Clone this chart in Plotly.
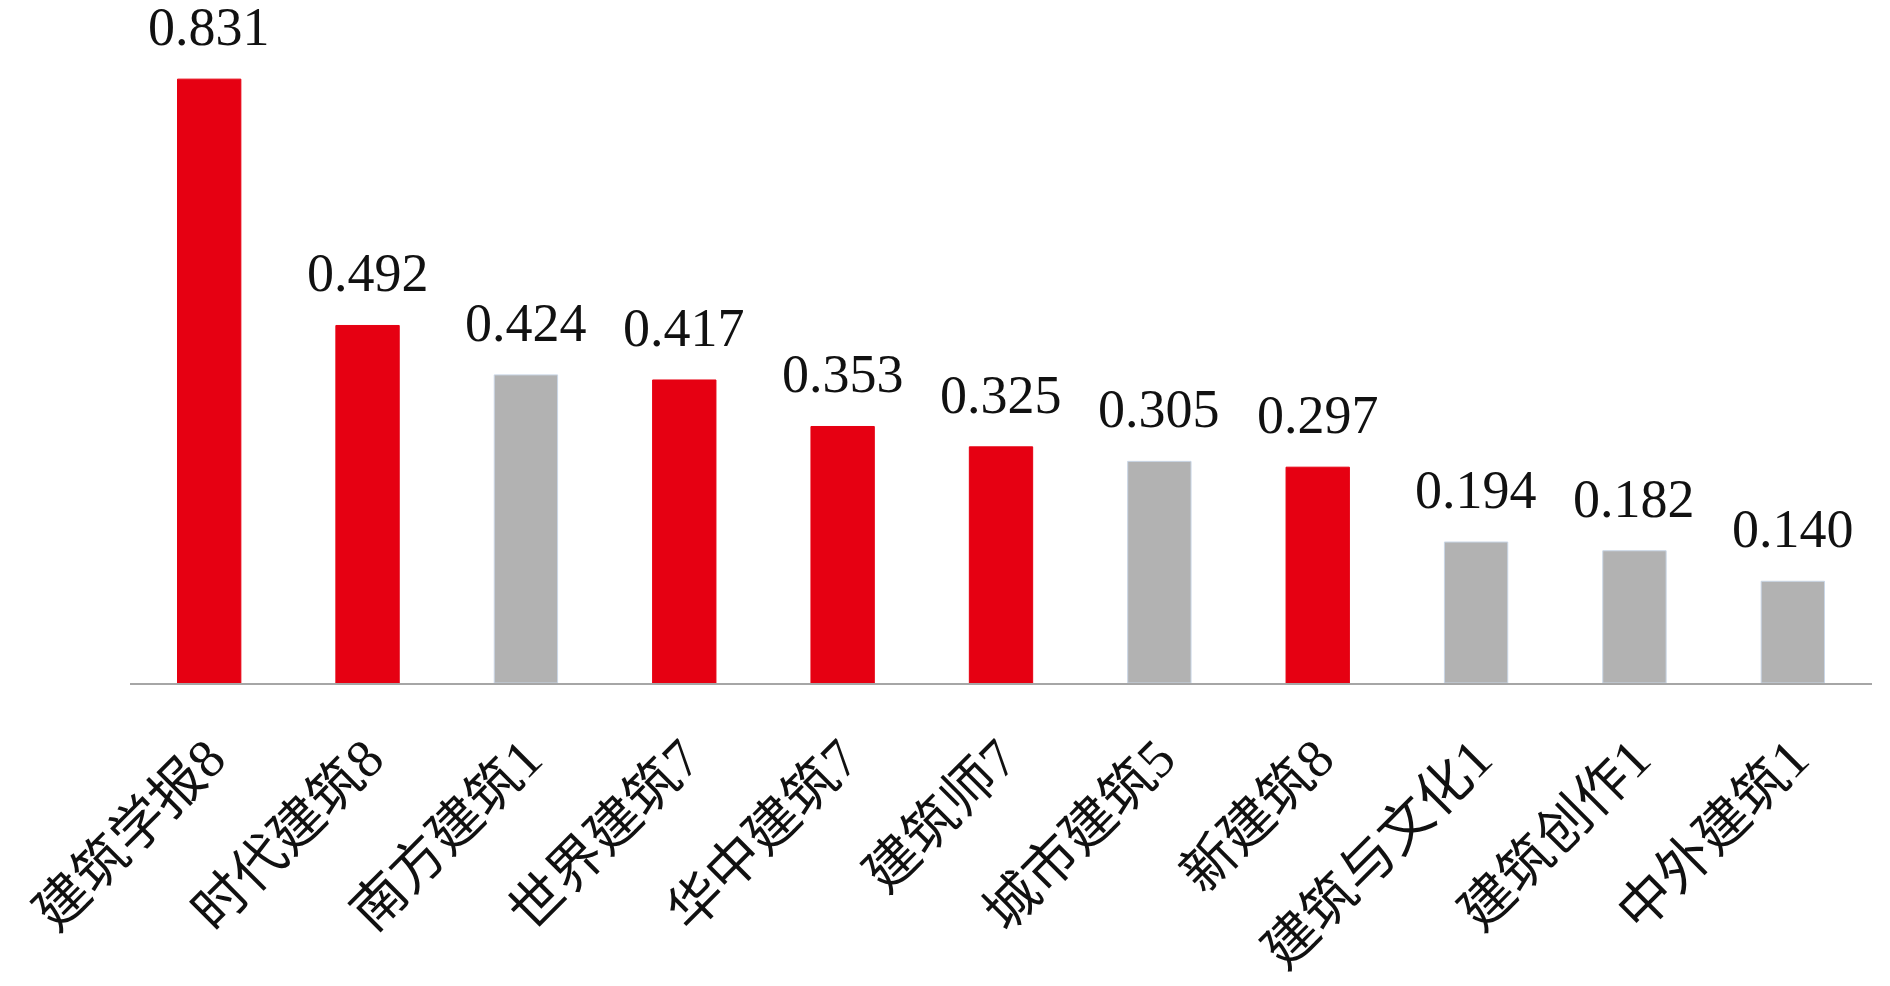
import plotly.graph_objects as go

categories = ["建筑学报8", "时代建筑8", "南方建筑1", "世界建筑7", "华中建筑7", "建筑师7",
              "城市建筑5", "新建筑8", "建筑与文化1", "建筑创作1", "中外建筑1"]
values = [0.831, 0.492, 0.424, 0.417, 0.353, 0.325, 0.305, 0.297, 0.194, 0.182, 0.140]
groups = ["red", "red", "gray", "red", "red", "red", "gray", "red", "gray", "gray", "gray"]
value_labels = ["0.831", "0.492", "0.424", "0.417", "0.353", "0.325", "0.305", "0.297",
                "0.194", "0.182", "0.140"]

palette = {"red": "#E60012", "gray": "#B2B2B2"}
outline = {"red": "#E60012", "gray": "#C9D6E6"}

font_family = "Liberation Serif, Noto Sans CJK SC, serif"

fig = go.Figure()
fig.add_trace(go.Bar(
    x=categories,
    y=values,
    marker=dict(color=[palette[g] for g in groups],
                line=dict(color=[outline[g] for g in groups], width=1)),
    showlegend=False,
    hoverinfo="x+y",
))

for c, v, t in zip(categories, values, value_labels):
    fig.add_annotation(x=c, y=v, text=t, showarrow=False, yanchor="bottom",
                       yshift=20, font=dict(family=font_family, size=54, color="#111111"))

fig.update_layout(
    width=1890, height=986,
    margin=dict(l=130, r=18, t=29, b=303),
    paper_bgcolor="white", plot_bgcolor="white",
    bargap=0.6,
    font=dict(family=font_family, color="#111111"),
)
fig.update_xaxes(
    showline=True, linecolor="#A6A6A6", linewidth=2,
    tickangle=-45, ticks="", tickfont=dict(family=font_family, size=54, color="#111111"),
    ticklabelstandoff=20, showgrid=False, automargin=False,
)
fig.update_yaxes(range=[0, 0.9], visible=False, showgrid=False, zeroline=False)

fig.write_html("out.html", config={"displayModeBar": False},
               post_script="document.body.style.margin='0';")
